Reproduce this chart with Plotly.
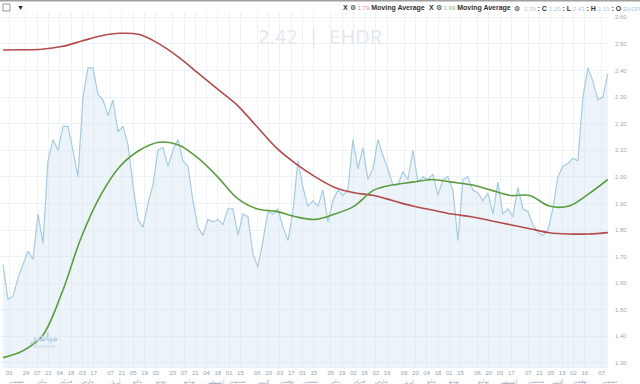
import pandas as pd
import plotly.graph_objects as go

# ---------------- data ----------------
close = [1.67, 1.54, 1.55, 1.62, 1.67, 1.72, 1.69, 1.86, 1.75, 2.06,
         2.14, 2.10, 2.19, 2.19, 2.10, 2.00, 2.30, 2.41, 2.41, 2.31,
         2.29, 2.23, 2.29, 2.17, 2.19, 2.12, 1.97, 1.84, 1.81, 1.90,
         1.97, 2.10, 2.11, 2.04, 2.10, 2.14, 2.06, 2.04, 1.91, 1.81,
         1.78, 1.84, 1.83, 1.84, 1.82, 1.88, 1.88, 1.78, 1.86, 1.85,
         1.71, 1.66, 1.76, 1.87, 1.86, 1.88, 1.81, 1.76, 1.87, 2.06,
         1.96, 1.89, 1.91, 1.89, 1.95, 1.83, 1.91, 1.95, 1.93, 1.95,
         2.14, 2.03, 2.11, 1.99, 2.03, 2.14, 2.08, 2.03, 1.97, 1.97,
         2.02, 1.99, 2.10, 1.98, 2.00, 1.99, 2.01, 1.93, 1.99, 2.00,
         1.95, 1.76, 1.99, 2.00, 1.95, 1.94, 1.91, 1.94, 1.86, 1.98,
         1.86, 1.88, 1.85, 1.96, 1.88, 1.87, 1.82, 1.79, 1.78, 1.80,
         1.88, 2.00, 2.04, 2.05, 2.07, 2.06, 2.30, 2.41, 2.36, 2.29,
         2.30, 2.39]

ma_red = [2.477, 2.478, 2.48, 2.49, 2.51, 2.53, 2.54, 2.535, 2.50, 2.45,
          2.39, 2.33, 2.27, 2.19, 2.11, 2.05, 2.00, 1.96, 1.94, 1.93,
          1.91, 1.89, 1.875, 1.86, 1.85, 1.835, 1.82, 1.805, 1.79, 1.785,
          1.785, 1.79]

ma_green = [1.32, 1.345, 1.40, 1.56, 1.77, 1.93, 2.04, 2.10, 2.13, 2.12,
            2.07, 2.00, 1.92, 1.88, 1.87, 1.85, 1.84, 1.86, 1.89, 1.95,
            1.97, 1.98, 1.99, 1.98, 1.97, 1.95, 1.93, 1.93, 1.89, 1.89,
            1.935, 1.99]

start_date = "2023-11-25 12:00"
end_date = "2025-12-14 17:00"
x_range = ["2023-11-21 19:00", "2025-12-14 20:00"]

tick_dates = ["2023-12-03", "2023-12-24", "2024-01-07", "2024-01-21", "2024-02-04", "2024-02-18",
              "2024-03-03", "2024-03-17", "2024-04-07", "2024-04-21", "2024-05-05", "2024-05-19",
              "2024-06-02", "2024-06-23", "2024-07-07", "2024-07-21", "2024-08-04", "2024-08-18",
              "2024-09-01", "2024-09-15", "2024-10-06", "2024-10-20", "2024-11-03", "2024-11-17",
              "2024-12-01", "2024-12-15", "2025-01-05", "2025-01-19", "2025-02-02", "2025-02-16",
              "2025-03-02", "2025-03-16", "2025-04-06", "2025-04-20", "2025-05-04", "2025-05-18",
              "2025-06-01", "2025-06-15", "2025-07-06", "2025-07-20", "2025-08-03", "2025-08-17",
              "2025-09-07", "2025-09-21", "2025-10-05", "2025-10-19", "2025-11-02", "2025-11-16",
              "2025-12-07"]
month_names = ["ديسمبر", "يناير", "فبراير", "مارس", "أبريل", "مايو", "يونيو", "يوليو",
               "أغسطس", "سبتمبر", "أكتوبر", "نوفمبر"]
y_ticks = [1.30, 1.40, 1.50, 1.60, 1.70, 1.80, 1.90, 2.00, 2.10, 2.20, 2.30, 2.40, 2.50, 2.60]

legend_ma_red = "1.79"
legend_ma_green = "1.99"
legend_ohlc = [("C", "2.39"), ("L", "2.20"), ("H", "2.43"), ("O", "2.19")]
symbol = "EHDR"
watermark_price = "2.42"

# ---------------- figure ----------------
close_x = pd.date_range(start_date, end_date, periods=len(close))
ma_x = pd.date_range(start_date, end_date, periods=len(ma_red))

fig = go.Figure()
fig.add_trace(go.Scatter(x=close_x, y=close, mode="lines",
                         line=dict(color="#a7cbe0", width=1.2),
                         fill="tozeroy", fillcolor="rgba(205,226,242,0.38)",
                         hoverinfo="skip"))
fig.add_trace(go.Scatter(x=ma_x, y=ma_red, mode="lines", line_shape="spline",
                         line=dict(color="#b34a4c", width=1.6), hoverinfo="skip"))
fig.add_trace(go.Scatter(x=ma_x, y=ma_green, mode="lines", line_shape="spline",
                         line=dict(color="#5b9d3e", width=1.6), hoverinfo="skip"))

tick_text = [d[8:10] for d in tick_dates]

fig.update_layout(
    width=640, height=384,
    margin=dict(l=0, r=32, t=12, b=16),
    paper_bgcolor="white", plot_bgcolor="white",
    showlegend=False,
    font=dict(family="Liberation Sans, Arial, sans-serif", size=7, color="#9aa9b8"),
    xaxis=dict(type="date", range=x_range, tickvals=tick_dates, ticktext=tick_text,
               showgrid=True, gridcolor="#edf2f7", gridwidth=1,
               tickfont=dict(size=6, color="#8fa3b6"), ticks="", ticklabelstandoff=0,
               zeroline=False, showline=False),
    yaxis=dict(side="right", range=[1.281, 2.62], tickvals=y_ticks,
               tickformat=".2f", showgrid=True, gridcolor="#edf2f7",
               tickfont=dict(size=6, color="#9aaabb"), ticks="", zeroline=False,
               showline=False, ticklabelstandoff=6),
)

annotations = []
# month names under the day ticks
seen = []
for d in tick_dates:
    ym = d[:7]
    if ym not in seen:
        seen.append(ym)
        m = int(d[5:7])
        annotations.append(dict(x=d, xref="x", y=0, yref="paper", yanchor="top",
                                xanchor="left", xshift=-3, yshift=-8,
                                text=month_names[m % 12], showarrow=False,
                                font=dict(size=5, color="#8fa3b6", family="Noto Sans")))

# watermark
annotations.append(dict(x=320 / 608, xref="paper", y=(368 - 36) / 356, yref="paper",
                        yanchor="middle", xanchor="center",
                        text=watermark_price + "  |  " + symbol, showarrow=False,
                        font=dict(size=20, color="#e3e8ee", family="Open Sans")))
annotations.append(dict(x=44 / 608, xref="paper", y=(368 - 336) / 356, yref="paper",
                        yanchor="middle", xanchor="center", text="<b>مباشر</b>",
                        showarrow=False,
                        font=dict(size=11, color="#b9cfe3", family="Noto Sans")))
annotations.append(dict(x=44 / 608, xref="paper", y=(368 - 346) / 356, yref="paper",
                        yanchor="middle", xanchor="center", text="Mubasher",
                        showarrow=False,
                        font=dict(size=5, color="#c8d8e8")))

# top legend bar
dark = "#333333"
def sp(text, color, size):
    return "<span style='color:%s;font-size:%dpx'>%s</span>" % (color, size, text)

ma1 = ("<b>X</b> ⚙ " + sp(legend_ma_red, "#e08a9a", 6) + " <b>Moving Average</b>")
ma2 = ("<b>X</b> ⚙ " + sp(legend_ma_green, "#7fc27a", 6) + " <b>Moving Average</b>")
ohlc = "⚙  "
for k, v in legend_ohlc:
    ohlc += sp(v, "#a7cbe0", 6) + "<b> : %s </b>" % k
ohlc += sp(symbol, "#a7cbe0", 6)

for px, txt in [(342, ma1), (428, ma2), (513, ohlc)]:
    annotations.append(dict(x=px / 608, xref="paper", y=1.0, yref="paper",
                            yanchor="bottom", xanchor="left", text=txt, showarrow=False,
                            font=dict(size=7, color=dark), borderpad=0, yshift=-1))
annotations.append(dict(x=15 / 608, xref="paper", y=1.0, yref="paper", yanchor="bottom",
                        xanchor="left", text="▼", showarrow=False,
                        font=dict(size=7, color="#222222"), yshift=-1))
fig.update_layout(annotations=annotations)

shapes = [
    dict(type="line", xref="paper", yref="paper", x0=0, x1=640 / 608,
         y0=(368 - 0.5) / 356, y1=(368 - 0.5) / 356, line=dict(color="#a0a0a0", width=2)),
    dict(type="rect", xref="paper", yref="paper", x0=3 / 608, x1=10 / 608,
         y0=(368 - 11) / 356, y1=(368 - 4) / 356, line=dict(color="#999999", width=1)),
]
fig.update_layout(shapes=shapes)

fig.write_html("out.html")
